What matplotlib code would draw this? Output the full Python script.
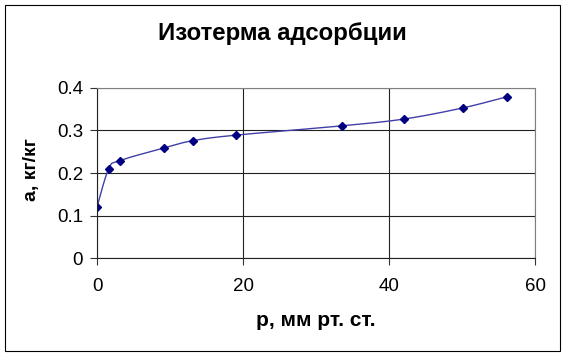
import numpy as np
import matplotlib
matplotlib.use("Agg")
import matplotlib.pyplot as plt
from matplotlib.patches import Rectangle

# -----------------------------
# Data
# -----------------------------
p = [0, 1.6, 3.1, 9.2, 13.1, 19.0, 33.6, 42.1, 50.1, 56.1]
a = [0.12, 0.21, 0.229, 0.259, 0.276, 0.289, 0.311, 0.327, 0.353, 0.379]

x_ticks = [0, 20, 40, 60]
y_ticks = [0, 0.1, 0.2, 0.3, 0.4]

plt.rcParams["font.family"] = ["Liberation Sans", "DejaVu Sans"]


# smoothed line like Excel (Catmull-Rom through the points)
def smooth(xs, ys, n=20):
    pts = np.column_stack([xs, ys])
    pts = np.vstack([pts[0], pts, pts[-1]])
    out = []
    for i in range(1, len(pts) - 2):
        p0, p1, p2, p3 = pts[i - 1], pts[i], pts[i + 1], pts[i + 2]
        t = np.linspace(0, 1, n)[:, None]
        c1 = p1 + (p2 - p0) / 6
        c2 = p2 - (p3 - p1) / 6
        seg = ((1 - t) ** 3) * p1 + 3 * ((1 - t) ** 2) * t * c1 \
            + 3 * (1 - t) * t ** 2 * c2 + t ** 3 * p2
        out.append(seg)
    out = np.vstack(out)
    return out[:, 0], out[:, 1]


# -----------------------------
# Plot
# -----------------------------
fig = plt.figure(figsize=(5.65, 3.56), dpi=100)
ax = fig.add_axes([0.1717, 0.275, 0.7753, 0.478])

sx, sy = smooth(p, a)
ax.plot(sx, sy, color="#4040a8", lw=1.0)
ax.plot(p, a, ls="none", marker="D", ms=4, color="#000080")

ax.set_xlim(0, 60)
ax.set_ylim(0, 0.4)
ax.set_xticks(x_ticks)
ax.set_yticks(y_ticks)
ax.set_xticklabels([str(v) for v in x_ticks])
ax.set_yticklabels(["0", "0.1", "0.2", "0.3", "0.4"])
ax.tick_params(labelsize=13.5, length=5, width=0.8, color="#333333")
ax.tick_params(axis="x", pad=9)
ax.tick_params(axis="y", pad=5)

ax.grid(True, color="#222222", lw=0.8)
for s in ["top", "right"]:
    ax.spines[s].set_color("#808080")
for s in ["left", "bottom"]:
    ax.spines[s].set_color("#222222")

fig.text(0.5, 0.888, "Изотерма адсорбции", ha="center", va="baseline",
         fontsize=17.3, fontweight="bold")
ax.set_xlabel("р, мм рт. ст.", fontsize=15, fontweight="bold", labelpad=12)
ax.set_ylabel("а, кг/кг", fontsize=14, fontweight="bold")
ax.yaxis.set_label_coords(-0.13, 0.523)

fig.patches.append(Rectangle((5 / 565, 5 / 356), 555 / 565, 346 / 356,
                             transform=fig.transFigure, fill=False,
                             edgecolor="black", lw=0.8))

fig.savefig("out.png", dpi=100)
